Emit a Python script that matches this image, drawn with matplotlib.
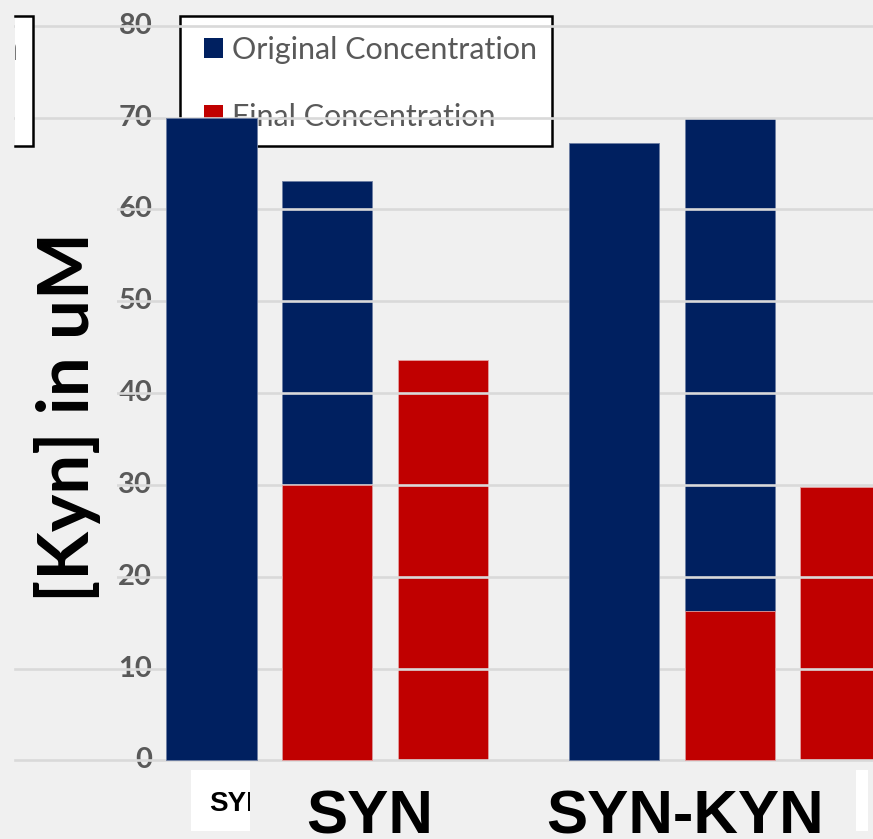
import numpy as np
import matplotlib
matplotlib.use("Agg")
import matplotlib.pyplot as plt
from matplotlib.patches import Rectangle
from matplotlib.transforms import Affine2D

# ---------------- data ----------------
groups = ["SYN", "SYN-KYN"]
series_names = ["Original Concentration", "Final Concentration"]
# three bar slots per group (middle slot of each group holds the overlaid pair)
original_conc = [70.0, 63.1, np.nan, 67.2, 70.0, np.nan]
final_conc = [np.nan, 30.0, 43.6, np.nan, 16.3, 29.8]
yticks = [0, 10, 20, 30, 40, 50, 60, 70, 80]
y_label = "[Kyn] in uM"
small_box_label = "SYN"

# ---------------- style ----------------
W, H = 873, 839
BG = "#f0f0f0"
BLUE = "#002060"
RED = "#c00000"
GRID = "#d9d9d9"
TICK_GRAY = "#595959"

fig = plt.figure(figsize=(W / 100, H / 100), dpi=100, facecolor=BG)
ax = fig.add_axes([0, 0, 1, 1])
ax.set_facecolor(BG)
ax.axis("off")

# pixel transform (origin top-left) for decorations
pix = Affine2D().scale(1 / W, -1 / H).translate(0, 1) + fig.transFigure

slots_per_group = 3
group_step = 3.477
bar_w = 0.778
x = np.array([g * group_step + i for g in range(len(groups)) for i in range(slots_per_group)])
ax.set_xlim(-1.827, 5.715)
ax.set_ylim(-8.55, 82.80)

# which bars sit above the gridlines (as in the pasted reference)
orig_z = [4, 2.5, 2.5, 4, 2.5, 2.5]
fin_z = [4, 4, 2.5, 4, 4, 2.5]

orig_handle = None
fin_handle = None
for xi, v, z in zip(x, original_conc, orig_z):
    if np.isnan(v):
        continue
    orig_handle = ax.bar(xi, v, width=bar_w, color=BLUE, edgecolor="#6d7ea3",
                         linewidth=0.6, zorder=z)
for xi, v, z in zip(x, final_conc, fin_z):
    if np.isnan(v):
        continue
    fin_handle = ax.bar(xi, v, width=bar_w, color=RED, edgecolor="#e3a0a0",
                        linewidth=0.6, zorder=z)

# gridlines
for t in yticks:
    ax.axhline(t, xmin=15 / W, xmax=1, color=GRID, linewidth=1.9, zorder=3)

# tick labels (drawn beneath gridlines)
for t in yticks:
    ax.text(-0.512, t, str(t), ha="right", va="center", fontsize=21,
            fontweight="bold", color=TICK_GRAY, family="Lato", zorder=2.6)

# y-axis label with a background patch hiding the gridlines behind it
ax.add_patch(Rectangle((0, 150), 117, 455, transform=pix, facecolor=BG,
                       edgecolor="none", zorder=3.5))
ax.text(89, 417, y_label, transform=pix, rotation=90, rotation_mode="anchor",
        ha="center", va="baseline", fontsize=51, fontweight="bold",
        family="Lato", color="black", zorder=3.6)

# cropped box at the upper-left edge
lb = Rectangle((15, 15.5), 18, 130.5, transform=pix, facecolor="white",
               edgecolor="none", zorder=3.5)
ax.add_patch(lb)
ax.plot([15, 33, 33, 15], [15.5, 15.5, 146, 146], transform=pix, color="black",
        linewidth=1.8, zorder=3.6, solid_joinstyle="miter")
frag = ax.text(18, 60, "n", transform=pix, ha="right", va="baseline", fontsize=26,
               color=TICK_GRAY, family="Lato", zorder=3.6, clip_on=True)
frag.set_clip_path(lb)

# legend frame + legend
ax.add_patch(Rectangle((180, 15.5), 372, 130.5, transform=pix, facecolor="white",
                       edgecolor="black", linewidth=1.8, zorder=2))
leg = ax.legend([orig_handle, fin_handle], series_names, loc="upper left",
                bbox_to_anchor=(204 / W, 1 - 36 / H), bbox_transform=fig.transFigure,
                frameon=False, borderpad=0, borderaxespad=0,
                handlelength=0.62, handleheight=0.62, handletextpad=0.3,
                labelspacing=1.27, prop={"family": "Lato", "size": 22})
for txt in leg.get_texts():
    txt.set_color(TICK_GRAY)
for h in leg.legend_handles:
    h.set_edgecolor("none")
leg.set_zorder(2.2)

# category labels
ax.text(370, 833, groups[0], transform=pix, ha="center", va="baseline",
        fontsize=44.5, fontweight="bold", family="Liberation Sans", color="black", zorder=5)
ax.text(685, 833, groups[1], transform=pix, ha="center", va="baseline",
        fontsize=44.5, fontweight="bold", family="Liberation Sans", color="black", zorder=5)

# small white box with cropped label
sb = Rectangle((191, 770), 59, 61, transform=pix, facecolor="white", edgecolor="none", zorder=5)
ax.add_patch(sb)
st = ax.text(209, 811, small_box_label, transform=pix, ha="left", va="baseline",
             fontsize=20, fontweight="bold", family="Liberation Sans", color="black",
             zorder=5.1, clip_on=True)
st.set_clip_path(sb)

# white sliver at right edge
ax.add_patch(Rectangle((856, 770), 12, 61, transform=pix, facecolor="white",
                       edgecolor="none", zorder=5))

fig.savefig("out.png", dpi=100, facecolor=BG)
